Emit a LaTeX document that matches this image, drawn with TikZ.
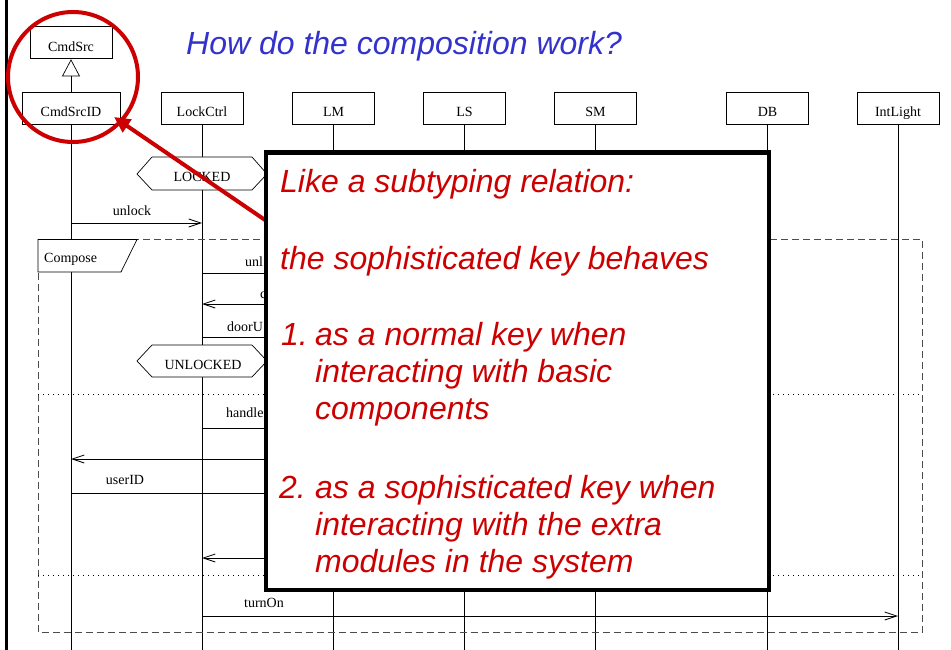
\documentclass[tikz,border=0pt]{standalone}
\usepackage{fontspec}
\setmainfont{Liberation Serif}
\newfontfamily\slidesans{Liberation Sans}
\usetikzlibrary{arrows.meta,calc}
\definecolor{slidered}{RGB}{204,0,0}
\definecolor{slideblue}{RGB}{51,51,204}
\begin{document}
\begin{tikzpicture}[x=1pt,y=-1pt,
  head/.style={draw, line width=0.7pt, minimum height=32pt, minimum width=82pt, inner sep=0pt, text height=18pt, text depth=0pt, font=\fontsize{14}{16}\selectfont},
  life/.style={line width=0.7pt},
  msg/.style={line width=0.8pt, -{Straight Barb[length=12pt,width=8pt]}},
  plainmsg/.style={line width=0.8pt},
  lbl/.style={anchor=base, inner sep=0pt, font=\fontsize{14}{16}\selectfont},
  frag/.style={anchor=base west, inner sep=0pt, font=\fontsize{14}{16}\selectfont},
  statebox/.style={draw, line width=0.7pt, fill=white},
  framebox/.style={draw=black!70, line width=0.9pt, dash pattern=on 7pt off 4pt},
  sepline/.style={line width=0.9pt, dash pattern=on 1.3pt off 3.7pt},
  slide/.style={anchor=base west, inner sep=0pt, text=slidered, font=\slidesans\itshape\fontsize{32}{36}\selectfont},
]
\useasboundingbox (0,0) rectangle (951,650);
\fill[white] (0,0) rectangle (951,650);

% left slide border
\coordinate (bordtop) at (6.5,0);
\coordinate (bordbot) at (6.5,650);
\draw[line width=3pt] (bordtop) -- (bordbot);

% title
\node[anchor=base west, inner sep=0pt, text=slideblue, font=\slidesans\itshape\fontsize{32}{36}\selectfont] (title) at (186,55) {How do the composition work?};

% heads
\node[head] (cmdsrc) at (71,42.5) {CmdSrc};
\node[head, minimum width=98pt] (cmdsrcid) at (71,108) {CmdSrcID};
\node[head] (lockctrl) at (202,108) {LockCtrl};
\node[head] (lm) at (333.5,108) {LM};
\node[head] (ls) at (464.5,108) {LS};
\node[head] (sm) at (595.5,108) {SM};
\node[head] (db) at (767.5,108) {DB};
\node[head] (intlight) at (898,108) {IntLight};

% generalization
\coordinate (tritip) at (71,60);
\coordinate (tribase) at (71,76);
\draw[life] (cmdsrcid.north) -- (tribase);
\draw[line width=0.7pt, fill=white] (tritip) -- ($(tribase)+(8.5,0)$) -- ($(tribase)+(-8.5,0)$) -- cycle;

% lifelines
\foreach \n in {cmdsrcid,lockctrl,lm,ls,sm,db,intlight}{
  \draw[life] (\n.south) -- (\n.south |- 0,650);
}

% LOCKED state
\draw[statebox] (137,174) -- (152,157) -- (252,157) -- (267,174) -- (252,190) -- (152,190) -- cycle;
\node[lbl] (locked) at (202,182) {LOCKED};

% unlock
\draw[msg] (cmdsrcid |- 0,223) -- (lockctrl |- 0,223);
\node[lbl] (lunlock) at (132,215) {unlock};

% compose frame
\draw[framebox] (38,239.5) rectangle (922.5,632);
\draw[line width=0.7pt, fill=white] (38,239.5) -- (137,239.5) -- (121,272) -- (38,272) -- cycle;
\node[anchor=base west, inner sep=0pt, font=\fontsize{14}{16}\selectfont] (compose) at (44,262) {Compose};

% messages inside
\draw[plainmsg] (lockctrl |- 0,273) -- (lm |- 0,273);
\node[frag] (m1) at (245,266) {unl};
\draw[msg] (lm |- 0,304) -- (lockctrl |- 0,304);
\node[frag] (m2) at (260,298) {c};
\draw[plainmsg] (lockctrl |- 0,337) -- (lm |- 0,337);
\node[frag] (m3) at (227,331) {doorU};

% UNLOCKED state
\draw[statebox] (137,361) -- (152,345) -- (252,345) -- (267,361) -- (252,377) -- (152,377) -- cycle;
\node[lbl] (unlocked) at (203,369) {UNLOCKED};

% separator 1
\draw[sepline] (38,394) -- (922.5,394);

\draw[plainmsg] (lockctrl |- 0,428) -- (lm |- 0,428);
\node[frag] (m4) at (226,417) {handle};
\draw[msg] (lm |- 0,459) -- (cmdsrcid |- 0,459);
\draw[plainmsg] (cmdsrcid |- 0,493) -- (lm |- 0,493);
\node[lbl] (luserid) at (125,484) {userID};
\draw[msg] (lm |- 0,558) -- (lockctrl |- 0,558);

% separator 2
\draw[sepline] (38,575) -- (922.5,575);

\draw[msg] (lockctrl |- 0,616) -- (intlight |- 0,616);
\node[lbl] (lturnon) at (264,607) {turnOn};

% red highlight
\coordinate (circc) at (73,77);
\draw[slidered, line width=4pt] (circc) circle [radius=65];
\coordinate (redstart) at (268,222);
\coordinate (redtip) at (114,117);
\draw[slidered, line width=4pt, -{Triangle[length=16pt,width=15pt]}] (redstart) -- (redtip);

% callout box
\draw[line width=4.5pt, fill=white] (266,152.5) rectangle (769,590);
\node[slide] (t1) at (280,193) {Like a subtyping relation:};
\node[slide] (t2) at (280,269) {the sophisticated key behaves};
\node[slide] (t3) at (281,345) {1.};
\node[slide] (t3b) at (315,345) {as a normal key when};
\node[slide] (t4) at (315,382) {interacting with basic};
\node[slide] (t5) at (315,419) {components};
\node[slide] (t6) at (279,498) {2.};
\node[slide] (t6b) at (315,498) {as a sophisticated key when};
\node[slide] (t7) at (315,535) {interacting with the extra};
\node[slide] (t8) at (315,572) {modules in the system};
\end{tikzpicture}
\end{document}
